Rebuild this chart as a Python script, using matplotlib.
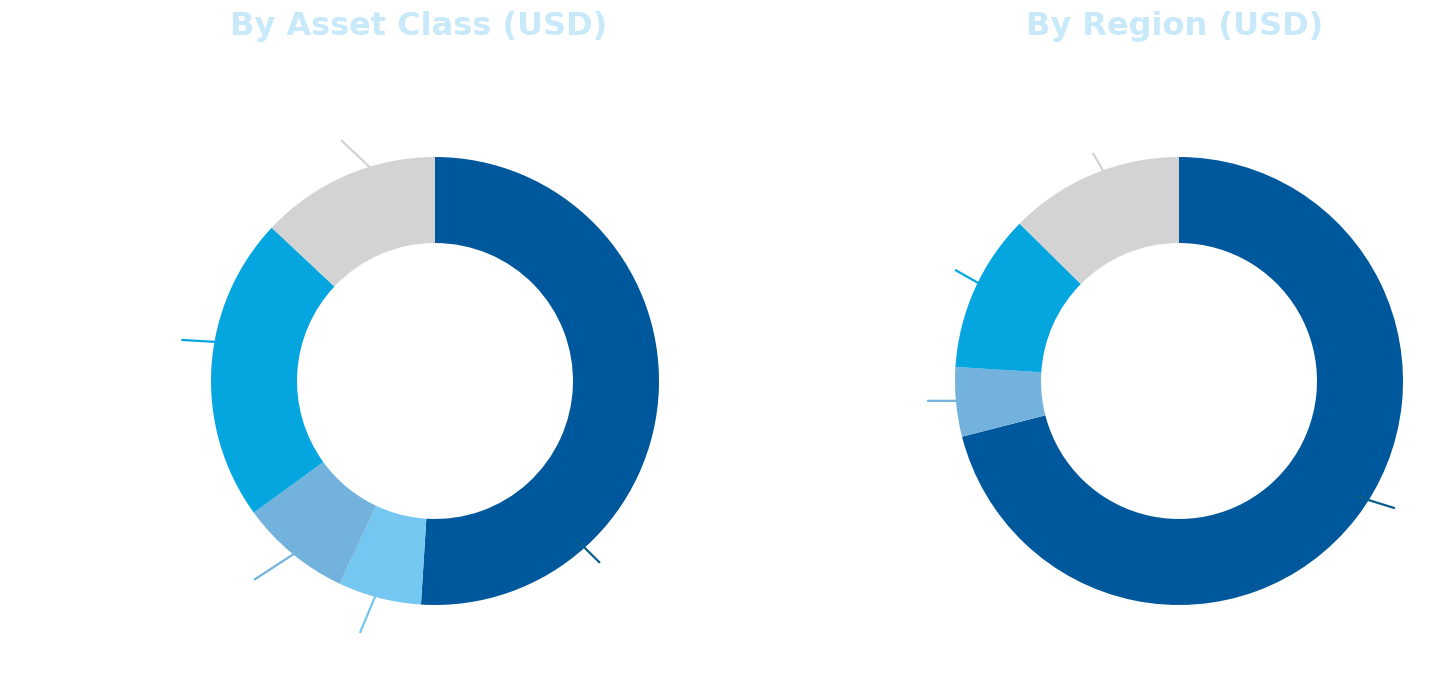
import numpy as np
import matplotlib
matplotlib.use("Agg")
import matplotlib.pyplot as plt

# Data
asset_classes = ["Equity", "Fixed Income", "Alternatives", "Multi-Asset", "Other"]
asset_values = [13, 22, 8, 6, 51]
regions = ["Other", "Asia", "Europe", "Americas"]
region_values = [12.6, 11.4, 5, 71]

COLORS = {
    "dark": "#00589c",
    "light": "#73c7f0",
    "medium": "#73b2dc",
    "cyan": "#05a6e0",
    "gray": "#d3d3d3",
}
asset_colors = [COLORS["gray"], COLORS["cyan"], COLORS["medium"], COLORS["light"], COLORS["dark"]]
region_colors = [COLORS["gray"], COLORS["cyan"], COLORS["medium"], COLORS["dark"]]

# leader lines: (inner angle, outer angle, outer radius), one per slice
asset_leaders = [(106.9, 111.3, 1.155), (169.9, 170.8, 1.147), (-129.2, -132.3, 1.20),
                 (-105.5, -106.6, 1.174), (-48.3, -47.8, 1.096)]
region_leaders = [(109.8, 110.7, 1.088), (154.0, 153.6, 1.116), (185.1, 184.5, 1.128),
                  (-33.1, -30.5, 1.119)]

W, H = 1444, 681
R = 224  # outer radius in px
S = 1.22


def donut(fig, cx, cy, values, colors, leaders):
    half = R * S
    ax = fig.add_axes([(cx - half) / W, (H - cy - half) / H, 2 * half / W, 2 * half / H])
    # pie goes clockwise from top, so feed reversed order
    ax.pie(values[::-1], colors=colors[::-1], startangle=90, counterclock=False,
           radius=1, wedgeprops=dict(width=0.384, linewidth=0))
    for (a0, a1, r1), col in zip(leaders, colors):
        a0, a1 = np.deg2rad(a0), np.deg2rad(a1)
        r0 = 0.94 if col == COLORS["dark"] else 0.995
        lc = "#0a5c8a" if col == COLORS["dark"] else col
        ax.plot([r0 * np.cos(a0), r1 * np.cos(a1)], [r0 * np.sin(a0), r1 * np.sin(a1)],
                color=lc, lw=1.6, clip_on=False, zorder=3, solid_capstyle="butt")
    ax.set_xlim(-S, S)
    ax.set_ylim(-S, S)
    ax.set_aspect("equal")
    ax.axis("off")
    return ax


fig = plt.figure(figsize=(W / 100, H / 100), dpi=100)
fig.patch.set_facecolor("white")

donut(fig, 435, 381, asset_values, asset_colors, asset_leaders)
donut(fig, 1179, 381, region_values, region_colors, region_leaders)

title_kw = dict(ha="center", va="center", fontsize=23, fontweight="bold",
                color="#c8e9f9", family=["DejaVu Sans"])
fig.text(419 / W, 1 - 27 / H, "By Asset Class (USD)", **title_kw)
fig.text(1175 / W, 1 - 27 / H, "By Region (USD)", **title_kw)

fig.savefig("out.png", dpi=100, facecolor="white")
plt.close(fig)
